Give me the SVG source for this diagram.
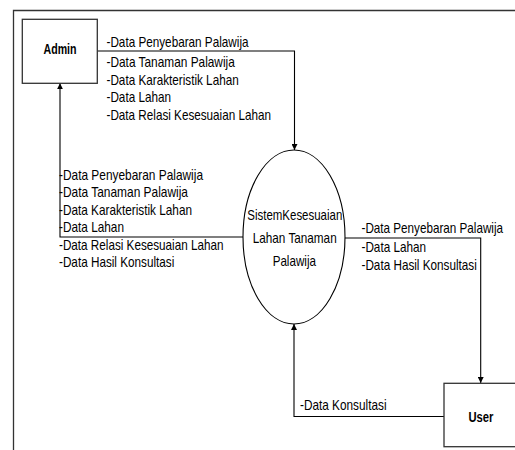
<svg xmlns="http://www.w3.org/2000/svg" width="515" height="450" viewBox="0 0 515 450">
<defs>
<style>
.lbl{font-family:"Liberation Sans",Arial,sans-serif;font-size:14.5px;fill:#000}
.nm{font-family:"Liberation Sans",Arial,sans-serif;font-size:14px;font-weight:bold;fill:#000}
.ln{fill:none;stroke:#000;stroke-width:1.1}
.box{fill:#fff;stroke:#333;stroke-width:1.3}
</style>
<marker id="ah" viewBox="0 0 10 10" refX="10" refY="5" markerWidth="6" markerHeight="6" orient="auto" markerUnits="userSpaceOnUse">
<path d="M0,0 L10,5 L0,10 z" fill="#000"/>
</marker>
</defs>
<rect width="515" height="450" fill="#fff"/>
<g id="frame">
<path d="M13.5,450 V10.5 H515" fill="none" stroke="#333" stroke-width="1.3"/>
</g>
<g id="connectors">
<path class="ln" d="M97.3,51 H294.5 V150" marker-end="url(#ah)"/>
<path class="ln" d="M243,237 H60 V83.3" marker-end="url(#ah)"/>
<path class="ln" d="M345,238 H480.7 V383" marker-end="url(#ah)"/>
<path class="ln" d="M444,416.5 H294 V324" marker-end="url(#ah)"/>
</g>
<g id="labels-admin-to-system">
<text class="lbl" x="106.5" y="47" textLength="142" lengthAdjust="spacingAndGlyphs">-Data Penyebaran Palawija</text>
<text class="lbl" x="106.5" y="66.5" textLength="128.3" lengthAdjust="spacingAndGlyphs">-Data Tanaman Palawija</text>
<text class="lbl" x="106.5" y="85" textLength="132.2" lengthAdjust="spacingAndGlyphs">-Data Karakteristik Lahan</text>
<text class="lbl" x="106.5" y="101.5" textLength="64.5" lengthAdjust="spacingAndGlyphs">-Data Lahan</text>
<text class="lbl" x="106.5" y="119.5" textLength="164.5" lengthAdjust="spacingAndGlyphs">-Data Relasi Kesesuaian Lahan</text>
</g>
<g id="labels-system-to-admin">
<text class="lbl" x="59" y="180" textLength="144" lengthAdjust="spacingAndGlyphs">-Data Penyebaran Palawija</text>
<text class="lbl" x="59" y="197" textLength="129" lengthAdjust="spacingAndGlyphs">-Data Tanaman Palawija</text>
<text class="lbl" x="59" y="215" textLength="133" lengthAdjust="spacingAndGlyphs">-Data Karakteristik Lahan</text>
<text class="lbl" x="59" y="231.5" textLength="65" lengthAdjust="spacingAndGlyphs">-Data Lahan</text>
<text class="lbl" x="59" y="250" textLength="164.5" lengthAdjust="spacingAndGlyphs">-Data Relasi Kesesuaian Lahan</text>
<text class="lbl" x="59" y="267" textLength="115.3" lengthAdjust="spacingAndGlyphs">-Data Hasil Konsultasi</text>
</g>
<g id="labels-system-to-user">
<text class="lbl" x="361.5" y="232.5" textLength="141.5" lengthAdjust="spacingAndGlyphs">-Data Penyebaran Palawija</text>
<text class="lbl" x="361.5" y="252" textLength="64.5" lengthAdjust="spacingAndGlyphs">-Data Lahan</text>
<text class="lbl" x="361.5" y="270" textLength="115.3" lengthAdjust="spacingAndGlyphs">-Data Hasil Konsultasi</text>
</g>
<g id="labels-user-to-system">
<text class="lbl" x="300" y="410" textLength="86.5" lengthAdjust="spacingAndGlyphs">-Data Konsultasi</text>
</g>
<g id="node-admin">
<rect class="box" x="22.3" y="19.3" width="75" height="64"/>
<text class="nm" x="60" y="54.3" text-anchor="middle" textLength="33" lengthAdjust="spacingAndGlyphs">Admin</text>
</g>
<g id="node-system">
<ellipse cx="294" cy="237" rx="51" ry="87" fill="#fff" stroke="#000" stroke-width="1.1"/>
<text class="lbl" x="294.8" y="220" text-anchor="middle" textLength="95" lengthAdjust="spacingAndGlyphs">SistemKesesuaian</text>
<text class="lbl" x="294.7" y="243.3" text-anchor="middle" textLength="84" lengthAdjust="spacingAndGlyphs">Lahan Tanaman</text>
<text class="lbl" x="294.3" y="265.7" text-anchor="middle" textLength="43.3" lengthAdjust="spacingAndGlyphs">Palawija</text>
</g>
<g id="node-user">
<rect class="box" x="444" y="383.3" width="75" height="63.4"/>
<text class="nm" x="481" y="421.7" text-anchor="middle" textLength="25" lengthAdjust="spacingAndGlyphs">User</text>
</g>
</svg>
